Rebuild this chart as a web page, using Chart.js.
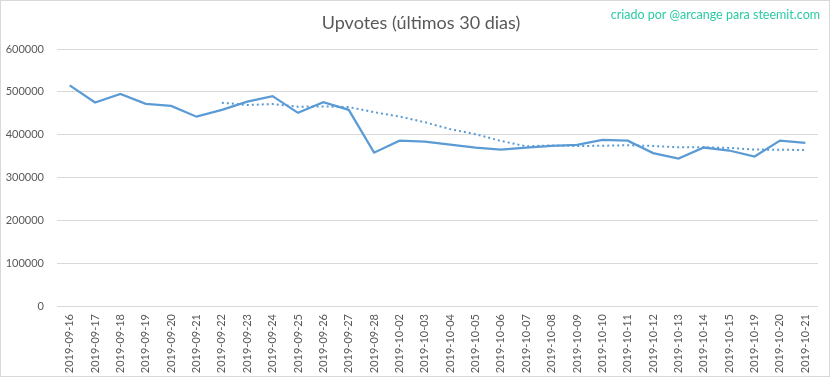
<!DOCTYPE html>
<html>
<head>
<meta charset="utf-8">
<script src="https://cdn.jsdelivr.net/npm/chart.js@4/dist/chart.umd.min.js"></script>
<style>
html,body{margin:0;padding:0;background:#fff;}
canvas{display:block;}
</style>
</head>
<body>
<canvas id="c" width="832" height="379"></canvas>
<script>
const categories = ["2019-09-16","2019-09-17","2019-09-18","2019-09-19","2019-09-20","2019-09-21","2019-09-22","2019-09-23","2019-09-24","2019-09-25","2019-09-26","2019-09-27","2019-09-28","2019-10-02","2019-10-03","2019-10-04","2019-10-05","2019-10-06","2019-10-07","2019-10-08","2019-10-09","2019-10-10","2019-10-11","2019-10-12","2019-10-13","2019-10-14","2019-10-15","2019-10-19","2019-10-20","2019-10-21"];
const upvotes = [515000,475000,495000,472000,467000,442000,458000,477000,490000,451000,476000,458000,358000,386000,384000,377000,370000,365000,370000,374000,376000,388000,386000,357000,344000,370000,363000,349000,386000,381000];
const trend = [null,null,null,null,null,null,474600,469300,471500,465300,465900,464500,452500,442300,429100,412900,401200,385300,372800,375000,373500,374100,375400,373600,370600,370600,369100,365200,364800,364200];
const yTicks = [0,100000,200000,300000,400000,500000,600000];
const titleText = "Upvotes (últimos 30 dias)";
const creditText = "criado por @arcange para steemit.com";

const FONT = "Lato, 'Open Sans', sans-serif";
const extras = {
  id: 'extras',
  afterDraw(chart) {
    const ctx = chart.ctx;
    ctx.save();
    ctx.strokeStyle = '#d9d9d9';
    ctx.lineWidth = 1;
    ctx.strokeRect(0.5, 0.5, 829, 376);
    ctx.textBaseline = 'middle';
    ctx.fillStyle = '#595959';
    ctx.font = '18px ' + FONT;
    ctx.textAlign = 'center';
    ctx.fillText(titleText, 421, 23);
    ctx.fillStyle = '#2ccaa6';
    ctx.font = '12.5px ' + FONT;
    ctx.textAlign = 'right';
    ctx.fillText(creditText, 820, 15);
    ctx.restore();
  }
};

new Chart(document.getElementById('c'), {
  type: 'line',
  data: {
    labels: categories,
    datasets: [
      { label: 'Upvotes', data: upvotes, borderColor: '#5b9bd5', borderWidth: 2.25, pointRadius: 0, tension: 0, fill: false },
      { label: 'Média móvel', data: trend, borderColor: '#5b9bd5', borderWidth: 2, borderDash: [2, 3], pointRadius: 0, tension: 0, fill: false, spanGaps: false }
    ]
  },
  options: {
    responsive: false,
    animation: false,
    devicePixelRatio: 1,
    layout: { padding: { left: 0, right: 14, top: 49, bottom: 0 } },
    plugins: {
      legend: { display: false },
      tooltip: { enabled: false },
      title: { display: false }
    },
    scales: {
      x: {
        offset: true,
        grid: { display: false, drawTicks: false },
        border: { display: false },
        ticks: { color: '#595959', font: { family: FONT, size: 11 }, minRotation: 90, maxRotation: 90, autoSkip: false, padding: 8 },
        afterFit(scale) { scale.height = 73; }
      },
      y: {
        min: 0,
        max: 600000,
        afterBuildTicks(scale) { scale.ticks = yTicks.map(v => ({ value: v })); },
        grid: { color: '#d9d9d9', drawTicks: false },
        border: { display: false },
        ticks: { color: '#595959', font: { family: FONT, size: 11 }, padding: 13, callback: v => String(v) },
        afterFit(scale) { scale.width = 57; }
      }
    }
  },
  plugins: [extras]
});
</script>
</body>
</html>
